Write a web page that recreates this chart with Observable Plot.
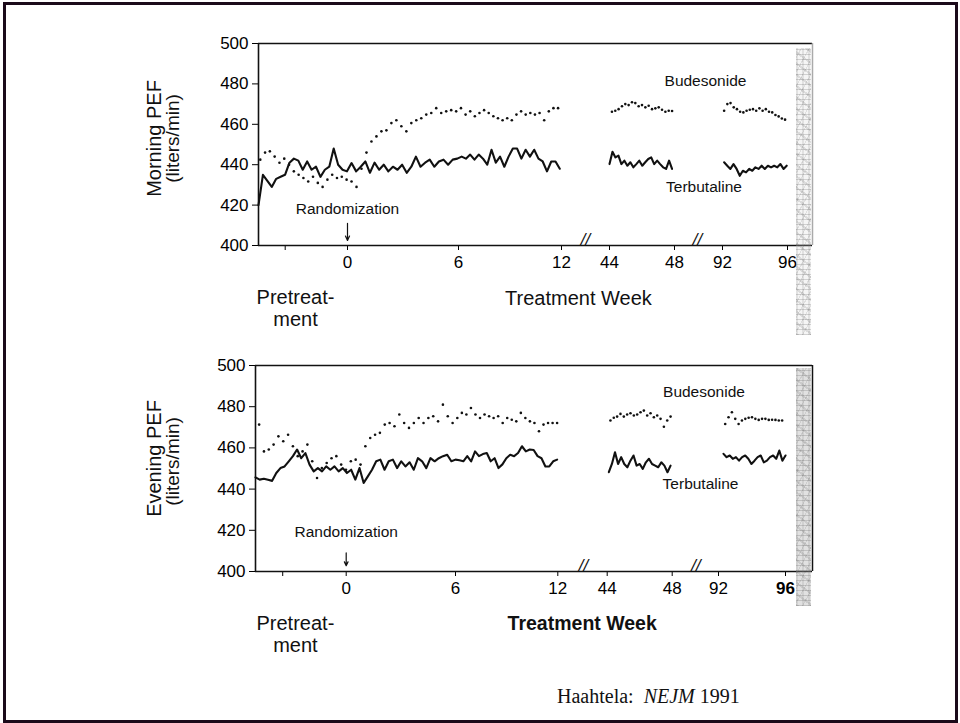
<!DOCTYPE html>
<html><head><meta charset="utf-8">
<script src="https://cdn.jsdelivr.net/npm/d3@7"></script>
<script src="https://cdn.jsdelivr.net/npm/@observablehq/plot@0.6"></script>
<style>
body{margin:0;background:#fff;}
#page{position:relative;width:960px;height:723px;overflow:hidden;background:#fff;font-family:"Liberation Sans",Arial,Helvetica,sans-serif;}
.panel{position:absolute;left:0;}
.shadow{position:absolute;width:15px;
  background-color:rgba(215,215,215,0.25);
  background-image:
    repeating-linear-gradient(0deg,rgba(80,80,80,0.22) 0 1px,transparent 1px 5px),
    repeating-linear-gradient(90deg,rgba(120,120,120,0.16) 0 2px,transparent 2px 6px),
    repeating-linear-gradient(37deg,rgba(90,90,90,0.16) 0 2px,transparent 2px 9px),
    repeating-linear-gradient(-61deg,rgba(60,60,60,0.12) 0 1px,transparent 1px 7px);}
.caption{position:absolute;left:557px;top:686px;font-family:"Liberation Serif","Times New Roman",serif;font-size:20px;line-height:1;color:#111;}
.border{position:absolute;left:3px;top:2px;width:955px;height:721px;box-sizing:border-box;border:3px solid #1b0a1a;}
</style></head>
<body>
<div id="page">
  <div id="top" class="panel" style="top:0"></div>
  <div id="bot" class="panel" style="top:322px"></div>
  <div class="shadow" style="left:796px;top:48px;height:287px"></div>
  <div class="shadow" style="left:796px;top:368px;height:238px;background-color:rgba(170,170,170,0.35)"></div>
  <div class="caption">Haahtela:&nbsp; <i>NEJM</i> 1991</div>
  <div class="border"></div>
</div>
<script>
// ---------- data (PEF, liters/min) ----------
const xTicks = [-3.5, 0, 6, 12, 44, 48, 92, 96];
const yTicks = [400, 420, 440, 460, 480, 500];
const seriesNames = ["Budesonide", "Terbutaline"];

// Morning PEF
const morningTerbutaline12 = [420,435,432,429,433,434,435,441,443,442,437.5,441.6,437.5,439,434,437.5,439,448,440,437.5,436.7,440.8,436.7,439,441.6,436,441,437.5,440,436.7,439,437.5,440,436,439,444,439,441,442.5,439,441.6,442.5,440,442.5,443,444,443,445,442.5,445,443,440,447.4,441,444,439,444,448,448,443,447.4,444,447.4,443,441.6,436.7,441.6,441.6,438];
const morningBudesonide12 = [442.5,446,446.6,444,441,443,440,436.7,435,433.4,431.7,434,431,429,432.6,435,433.4,434,432.6,431.7,429,438,446,451.5,454,456.5,457,460.6,462,459,456.5,460.6,462,463,464.8,465.6,468,465.6,466.4,467,466.4,468,464.8,466.4,464,465.6,467,465.6,464,463,462,463,462,464.8,466.4,464.8,465.6,464.8,465.6,462,466.4,468,468];
const morningTerbutaline48 = [440.3,446.4,443.6,444.5,440.3,442,439.5,441.2,438.7,440.3,442,439.5,441.2,442.8,443.6,440.3,442,440.3,438.7,437.9,442,437.9];
const morningBudesonide48 = [466.2,466.7,467.5,468.9,470,469.5,470.9,470.5,468.9,469.5,468.4,469.2,467.5,467.9,468.4,467.2,466.2,466.7,466.6];
const morningTerbutaline96 = [441.2,439.5,437.9,440.3,437.9,434.5,437,436.2,437.9,437,438.7,437.9,439.5,437.9,439.5,438.7,439.5,438.7,440.3,437.9,439.5];
const morningBudesonide96 = [466.7,470,470.5,468.4,467.5,466.2,465.9,466.7,467.2,467.5,466.7,467.9,466.7,467.5,466.2,465.9,464.6,463.9,462.9,462.3];

// Evening PEF
const eveningTerbutaline12 = [445.7,444.6,445,444.5,444,447.8,450.2,451,453.5,456,459.2,455,457.5,451.9,448.6,450.2,448.6,451,449.4,451,448.6,450.2,447.8,449.4,444.6,450.2,443,446.2,449.4,453.5,454.3,449.4,453.5,454.3,450.2,453.5,451,453,449.4,455,453.5,450.2,455,453.5,455,456,456.7,453.5,454.3,454,453.5,456,453.5,458.3,456,457,457.5,453.5,455,450.2,452,455,456.7,456,457.5,460.8,458.3,459.2,459,456,455,451,451,453.5,454.3];
const eveningBudesonide12 = [471.3,458.3,459.2,461.6,465.6,463.2,466.4,460.8,456,458.3,461.6,453.5,445.4,450.2,452.7,455,456,451.9,449.4,453.5,454.3,451.9,460.8,464.8,466.4,467.3,471.3,472.1,470.5,476.2,472.1,469.7,472.1,474.5,472.1,474.5,475.4,472.9,481,475.4,472.1,474.5,477,476.2,479.4,476.2,474.5,476.2,475.4,474.5,475.4,472.1,474.5,473.7,472.9,477,474.5,472.9,472.1,468.1,471.3,472.1,472.1,472.1];
const eveningTerbutaline48 = [448.2,452.2,457.9,452.2,455.5,452.2,450.6,453.8,456.3,451.4,452.2,449.8,453,454.7,452.2,451.4,450.6,453,451.4,448.2,451.4];
const eveningBudesonide48 = [473.3,474.6,475.2,476.5,475.2,476.2,476.8,475.7,476.2,477.3,478.1,475.7,476.8,474.9,475.7,474.1,470.3,473.3,475.2];
const eveningTerbutaline96 = [457.1,455.5,456.3,454.7,455.5,453.8,455.5,456.3,454.7,452.2,453.8,455.5,456.3,453,453.8,455.5,456.3,454.7,458.7,453.8,456.3];
const eveningBudesonide96 = [471.6,474.9,477.3,474.1,471.6,473.3,474.1,474.6,474.9,474.1,473.6,474.1,474.1,473.6,473.7,473.6,473.3,473.3];

// week span covered by each recorded stretch [first, last]
const morningTerbSpans = [[-5, 11.9], [44.0, 47.85], [92.1, 95.95]];
const morningBudSpans  = [[-4.9, 11.8], [44.15, 47.85], [92.1, 95.85]];
const eveningTerbSpans = [[-5, 11.96], [44.1, 47.9], [92.3, 96.0]];
const eveningBudSpans  = [[-4.8, 11.96], [44.2, 47.9], [92.4, 95.8]];

// ---------- layout ----------
const xDomain = [-5, 0, 6, 12, 44, 48, 92, 96, 97.4];
const xRangeTop = [258, 347, 458, 561, 609, 674, 722, 787, 812];
const xRangeBot = [255, 345.7, 455, 557.3, 606.7, 671.7, 718, 785, 812];
const FONT = '"Liberation Sans", Arial, Helvetica, sans-serif';

function rows(arrays, spans, series) {
  const out = [];
  arrays.forEach((vals, s) => {
    const [w0, w1] = spans[s];
    const n = vals.length;
    vals.forEach((v, i) => out.push({week: w0 + (w1 - w0) * i / (n - 1), pef: v, seg: s, series}));
  });
  return out;
}

function panel(o) {
  return Plot.plot({
    width: 960, height: 340,
    marginLeft: o.marginLeft, marginRight: 148, marginTop: 43, marginBottom: o.marginBottom,
    style: {fontFamily: FONT, fontSize: "17px", color: "black", background: "transparent", overflow: "visible"},
    x: {type: "linear", domain: xDomain, range: o.xRange, ticks: xTicks,
        tickFormat: d => d < 0 ? "" : String(d), tickSize: 5, tickPadding: 5, label: null},
    y: {domain: [400, 500], ticks: yTicks, tickSize: 6, tickPadding: 4, label: null},
    marks: [
      Plot.ruleY([400, 500], {stroke: "#111", strokeWidth: 1.5}),
      Plot.ruleX([xDomain[0]], {stroke: "#111", strokeWidth: 1.6}),
      Plot.ruleX([xDomain[xDomain.length - 1]], {stroke: o.rightStroke, strokeWidth: 1.5}),
      Plot.text(o.breaks, {x: d => d, frameAnchor: "bottom", text: () => "//", fontSize: 17, fontStyle: "italic", dy: -1, fill: "#111"}),
      Plot.dot(o.bud, {x: "week", y: "pef", r: 1.3, fill: "#111", stroke: null}),
      Plot.line(o.terb, {x: "week", y: "pef", z: "seg", stroke: "#111", strokeWidth: 2.1, strokeLinejoin: "round"}),
      Plot.text([o.rand], {x: "week", y: "pef", text: () => "Randomization", fontSize: 15.5, fill: "#111"}),
      Plot.arrow([o.arrow], {x: "week", y1: "from", y2: "to", stroke: "#111", strokeWidth: 1.2, headLength: 6, headAngle: 50}),
      Plot.text(o.names, {x: "week", y: "pef", text: "name", fontSize: 15.5, fill: "#111"}),
      Plot.text([o.pre], {x: "week", frameAnchor: "bottom", text: () => "Pretreat-\nment", fontSize: 20, lineHeight: 1.1, lineAnchor: "middle", textAnchor: "middle", dy: o.pre.dy, fill: "#111"}),
      Plot.text([o.tw], {x: "week", frameAnchor: "bottom", text: () => "Treatment Week", fontSize: o.tw.size, fontWeight: o.tw.weight, lineAnchor: "middle", textAnchor: "middle", dy: o.tw.dy, fill: "#111"}),
      Plot.text([o.title], {frameAnchor: "left", text: () => o.title, rotate: -90, fontSize: 20, dx: o.titleDx, dy: o.titleDy, lineAnchor: "middle", textAnchor: "middle", fill: "#111"}),
      Plot.text(["(liters/min)"], {frameAnchor: "left", text: d => d, rotate: -90, fontSize: 19, dx: o.unitDx, dy: o.unitDy, lineAnchor: "middle", textAnchor: "middle", fill: "#111"})
    ]
  });
}

const topPlot = panel({
  marginLeft: 258, marginBottom: 95, xRange: xRangeTop, rightStroke: "#aaa",
  breaks: [28, 69],
  terb: rows([morningTerbutaline12, morningTerbutaline48, morningTerbutaline96], morningTerbSpans, "Terbutaline"),
  bud: rows([morningBudesonide12, morningBudesonide48, morningBudesonide96], morningBudSpans, "Budesonide"),
  rand: {week: 0, pef: 418.3}, arrow: {week: 0, from: 411, to: 402.5},
  names: [{name: seriesNames[0], week: 76.4, pef: 481.3}, {name: seriesNames[1], week: 75, pef: 428.9}],
  pre: {week: -2.92, dy: 62}, tw: {week: 23.3, dy: 53, size: 20, weight: "normal"},
  title: "Morning PEF", titleDx: -104, titleDy: -6, unitDx: -86, unitDy: -6
});
const botPlot = panel({
  marginLeft: 255, marginBottom: 91, xRange: xRangeBot, rightStroke: "#111",
  breaks: [28.6, 70.5],
  terb: rows([eveningTerbutaline12, eveningTerbutaline48, eveningTerbutaline96], eveningTerbSpans, "Terbutaline"),
  bud: rows([eveningBudesonide12, eveningBudesonide48, eveningBudesonide96], eveningBudSpans, "Budesonide"),
  rand: {week: 0, pef: 419.1}, arrow: {week: 0, from: 409, to: 402.8},
  names: [{name: seriesNames[0], week: 78.2, pef: 487}, {name: seriesNames[1], week: 74.9, pef: 442.6}],
  pre: {week: -2.8, dy: 62}, tw: {week: 27.8, dy: 52, size: 19.5, weight: "bold"},
  title: "Evening PEF", titleDx: -101, titleDy: -10, unitDx: -83, unitDy: -7
});
botPlot.querySelectorAll("text").forEach(t => { if (t.textContent === "96") t.setAttribute("font-weight", "bold"); });

document.getElementById("top").appendChild(topPlot);
document.getElementById("bot").appendChild(botPlot);
</script>
</body></html>
